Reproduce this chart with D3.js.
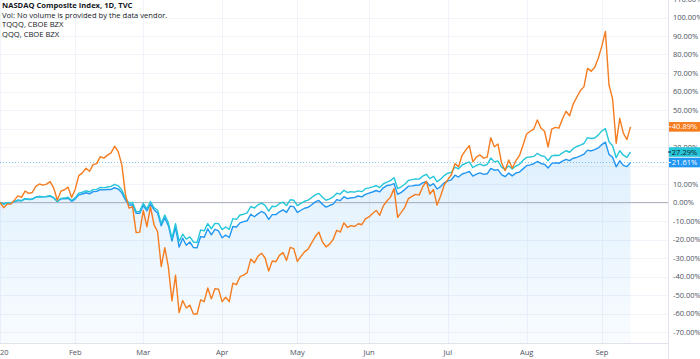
<!DOCTYPE html>
<html><head><meta charset="utf-8">
<script src="https://cdn.jsdelivr.net/npm/d3@7"></script>
<style>html,body{margin:0;padding:0;background:#fff;overflow:hidden}svg{display:block}</style>
</head><body>
<svg id="c" width="700" height="359"></svg>
<script>
// NASDAQ Composite daily closes, 2 Jan 2020 .. 14 Sep 2020 (trading days)
const composite = [
9092.19,9020.77,9071.47,9068.58,9129.24,9203.43,9178.86,9273.93,9251.33,9258.70,9357.13,9388.94,9370.81,9383.77,9402.48,9314.91,9139.31,9269.68,9275.16,9298.93,9150.94,
9273.40,9467.97,9508.68,9572.15,9520.51,9628.39,9638.94,9725.96,9711.97,9731.18,9732.74,9817.18,9750.96,9576.59,9221.28,8965.61,8980.78,8566.48,8567.37,
8952.17,8684.09,9018.09,8738.60,8575.62,7950.68,8344.25,7952.05,7201.80,7874.88,6904.59,7334.78,6989.84,7150.58,6879.52,6860.67,7417.86,7384.30,7797.54,7502.38,7774.15,7700.10,
7360.58,7487.31,7373.08,7913.24,7887.26,8090.90,8153.58,8192.42,8515.74,8393.18,8532.36,8650.14,8560.73,8263.23,8495.38,8494.75,8634.52,8730.16,8607.73,8914.71,8889.55,
8604.95,8710.71,8809.12,8854.39,8979.66,9121.32,9192.34,9002.55,8863.17,8943.72,9014.56,9234.83,9185.10,9375.78,9284.88,9324.59,9340.22,9412.36,9368.99,9489.87,
9552.05,9608.38,9682.91,9615.81,9814.08,9924.75,9953.75,10020.35,9492.73,9588.81,9726.02,9895.87,9910.53,9943.05,9946.12,10056.48,10131.37,9909.17,10017.00,9757.22,9874.15,10058.77,
10154.63,10207.63,10433.65,10343.89,10492.50,10547.75,10617.44,10390.84,10488.58,10550.49,10473.83,10503.19,10767.09,10680.36,10706.13,10461.42,10363.18,10536.27,10402.09,10542.94,10587.81,10745.27,
10902.80,10941.17,10998.40,11108.07,11010.98,10968.36,10782.82,11012.24,11042.50,11019.30,11129.72,11210.84,11146.46,11264.95,11311.80,11379.72,11466.47,11665.06,11625.34,11695.63,11775.46,
11939.67,12056.44,11458.10,11313.13,10847.69,11141.56,10919.59,10853.55,11056.65];

// QQQ daily closes (CBOE BZX)
const qqq = [
216.16,214.18,215.56,215.53,217.15,218.80,218.21,220.63,219.71,220.03,222.37,223.24,222.84,223.21,224.16,221.75,217.24,220.77,221.34,222.25,218.47,
221.63,227.07,228.14,229.83,228.71,231.15,231.43,233.76,233.24,234.27,235.03,237.43,235.64,230.81,221.42,215.32,216.10,205.50,205.76,
215.24,208.69,217.28,210.06,207.08,191.66,201.64,192.41,174.33,191.49,170.70,179.10,173.40,175.97,170.00,169.30,184.00,183.00,191.50,185.50,191.80,191.50,
184.50,187.50,184.80,197.30,196.50,201.60,202.50,204.00,211.50,209.60,213.50,215.50,212.80,206.00,211.80,211.40,215.00,216.50,212.50,219.30,218.80,
212.50,215.20,217.60,219.00,222.00,225.00,226.80,222.30,218.80,220.30,222.70,227.00,226.00,230.50,227.80,228.80,228.30,229.80,228.80,232.30,
233.30,234.42,235.76,233.66,237.91,240.04,241.68,245.03,232.46,234.56,237.53,241.94,242.89,243.73,243.47,246.92,249.15,244.11,246.87,240.38,243.46,247.60,
250.39,251.40,257.59,255.54,259.98,261.90,263.54,257.02,259.62,260.96,259.16,260.54,268.06,263.62,264.67,257.42,254.89,258.76,255.40,258.80,260.70,265.50,
268.90,269.40,270.00,273.50,270.80,270.00,264.90,270.60,271.40,271.10,274.10,276.60,274.90,279.10,281.60,283.20,285.10,291.90,290.90,291.50,294.90,
299.90,302.50,287.10,282.50,268.40,276.60,271.40,268.90,275.15];

// TQQQ (CBOE BZX) change since first bar, %
const tqqqPct = [
0,-2.8,-0.9,-0.9,1.3,3.6,2.8,6.2,4.9,5.4,8.7,10.0,9.4,9.9,11.3,7.8,1.2,6.1,6.9,8.3,2.7,
7.2,14.5,16.0,18.5,16.9,20.5,21.0,24.8,24.0,25.6,26.8,30.4,27.5,20.5,4.5,-3.0,-2.2,-16.3,-16.0,
-4.3,-13.1,-2.3,-12.1,-15.8,-34.6,-24.4,-34.8,-53.2,-39.3,-59.5,-53.0,-57.0,-55.5,-60.3,-60.3,-52.6,-53.6,-46.2,-52.1,-46.6,-46.8,
-53.6,-51.2,-53.6,-43.6,-44.4,-40.1,-39.3,-37.9,-30.6,-32.6,-29.1,-27.4,-30.0,-37.1,-31.6,-32.0,-28.6,-27.1,-31.3,-24.3,-24.9,
-31.8,-29.1,-26.7,-25.2,-21.8,-18.4,-16.0,-21.3,-24.0,-22.5,-20.0,-15.0,-16.0,-11.0,-13.5,-12.5,-13.0,-11.5,-12.0,-8.9,
-7.8,-5.9,-4.3,-6.9,-1.8,0.8,2.9,7.5,-8.0,-5.3,-2.6,2.1,3.3,4.4,4.0,8.4,11.4,4.6,7.0,-1.4,3.5,9.5,
12.4,15.0,21.0,19.3,25.5,28.3,30.7,22.0,24.7,25.7,24.0,24.5,35.0,30.1,31.6,21.5,17.2,23.0,18.5,22.6,25.3,31.0,
37.0,38.5,39.7,44.6,40.3,38.5,30.0,39.7,40.6,40.2,45.1,49.3,46.9,53.2,56.9,60.5,62.5,72.5,71.0,73.0,78.0,
84.5,92.5,63.5,56.0,32.0,45.5,37.5,34.0,40.89];

// first trading day of each month (bar index) and labels
const monthStartIdx = [0,21,40,62,83,103,125,147,168];
const monthLabels = ["2020","Feb","Mar","Apr","May","Jun","Jul","Aug","Sep"];
const yTickValues = [-70,-60,-50,-40,-30,-20,-10,0,10,20,30,40,50,60,70,80,90,100,110];
const legendLines = ["NASDAQ Composite Index, 1D, TVC","Vol: No volume is provided by the data vendor.","TQQQ, CBOE BZX","QQQ, CBOE BZX"];

const colors = {comp:"#2196f3", qqq:"#26c6da", tqqq:"#f57c1f"};
const font = "'Open Sans', Roboto, sans-serif";

const pct = arr => arr.map(v => (v / arr[0] - 1) * 100);
const compPct = pct(composite), qqqPct = pct(qqq);

const plotRight = 668, plotBottom = 343;
const svg = d3.select("#c");
const x = d3.scaleLinear().domain([0, composite.length - 1]).range([0, 630.5]);
const y = d3.scaleLinear().domain([0, 100]).range([202.5, 17.5]);

const defs = svg.append("defs");
const grad = defs.append("linearGradient").attr("id","ag").attr("gradientUnits","userSpaceOnUse")
  .attr("x1",0).attr("x2",0).attr("y1",y(d3.max(compPct))).attr("y2",plotBottom);
grad.append("stop").attr("offset",0).attr("stop-color","#2196f3").attr("stop-opacity",0.15);
grad.append("stop").attr("offset",1).attr("stop-color","#2196f3").attr("stop-opacity",0.03);
defs.append("clipPath").attr("id","pc").append("rect").attr("x",0).attr("y",0).attr("width",plotRight).attr("height",plotBottom);

// grid
const g = svg.append("g").attr("clip-path","url(#pc)");
g.selectAll(".hg").data(yTickValues).join("line")
  .attr("x1",0).attr("x2",plotRight).attr("y1",d=>Math.round(y(d))+0.5).attr("y2",d=>Math.round(y(d))+0.5)
  .attr("stroke","#f0f3fa").attr("stroke-width",1);
g.selectAll(".vg").data(monthStartIdx).join("line")
  .attr("y1",0).attr("y2",plotBottom).attr("x1",d=>Math.round(x(d))+0.5).attr("x2",d=>Math.round(x(d))+0.5)
  .attr("stroke","#f0f3fa").attr("stroke-width",1);

// area for main series
g.append("path").datum(compPct)
  .attr("d", d3.area().x((d,i)=>x(i)).y0(plotBottom).y1(d=>y(d)))
  .attr("fill","url(#ag)");

// zero line
g.append("line").attr("x1",0).attr("x2",plotRight).attr("y1",y(0)).attr("y2",y(0))
  .attr("stroke","#b2b5be").attr("stroke-width",1);

// price line for main series
g.append("line").attr("x1",0).attr("x2",plotRight)
  .attr("y1",y(compPct[compPct.length-1])).attr("y2",y(compPct[compPct.length-1]))
  .attr("stroke","#2196f3").attr("stroke-opacity",0.55).attr("stroke-dasharray","1,2").attr("stroke-width",1);

const line = d3.line().x((d,i)=>x(i)).y(d=>y(d));
g.append("path").datum(compPct).attr("d",line).attr("fill","none").attr("stroke",colors.comp).attr("stroke-width",1.4).attr("stroke-linejoin","round");
g.append("path").datum(qqqPct).attr("d",line).attr("fill","none").attr("stroke",colors.qqq).attr("stroke-width",1.4).attr("stroke-linejoin","round");
g.append("path").datum(tqqqPct).attr("d",line).attr("fill","none").attr("stroke",colors.tqqq).attr("stroke-width",1.4).attr("stroke-linejoin","round");

// axes borders
svg.append("line").attr("x1",plotRight+0.5).attr("x2",plotRight+0.5).attr("y1",0).attr("y2",359).attr("stroke","#e0e3eb");
svg.append("line").attr("x1",0).attr("x2",plotRight).attr("y1",plotBottom+0.5).attr("y2",plotBottom+0.5).attr("stroke","#e0e3eb");

// last value tags
const tags = [
  {v: tqqqPct[tqqqPct.length-1], c: colors.tqqq, t:"#fff"},
  {v: qqqPct[qqqPct.length-1], c: colors.qqq, t:"#131722"},
  {v: compPct[compPct.length-1], c: colors.comp, t:"#fff"}
];

// y labels (those fully hidden behind a tag are not drawn)
const visibleTicks = yTickValues.filter(t => tags.every(tg => Math.abs(y(t) - y(tg.v)) > 4.5));
svg.selectAll(".yl").data(visibleTicks).join("text")
  .attr("x",673).attr("y",d=>y(d)).attr("dy","0.35em")
  .attr("font-family",font).attr("font-size",7.5).attr("fill","#4c525e")
  .text(d=>d.toFixed(2)+"%");

// x labels
svg.selectAll(".xl").data(monthStartIdx).join("text")
  .attr("x",d=>x(d)).attr("y",355).attr("text-anchor","middle")
  .attr("font-family",font).attr("font-size",7.5).attr("fill","#4c525e")
  .text((d,i)=>monthLabels[i]);

const tg = svg.selectAll(".tag").data(tags).join("g").attr("transform",d=>`translate(${plotRight},${y(d.v)})`);
tg.append("rect").attr("x",1).attr("y",-4.8).attr("width",31).attr("height",9.6).attr("fill",d=>d.c);
tg.append("line").attr("x1",0).attr("x2",3).attr("y1",0).attr("y2",0).attr("stroke",d=>d.t);
tg.append("text").attr("x",16.5).attr("y",0).attr("dy","0.35em").attr("text-anchor","middle")
  .attr("font-family",font).attr("font-size",7.5).attr("fill",d=>d.t)
  .text(d=>d.v.toFixed(2)+"%");

// legend
svg.selectAll(".lg").data(legendLines).join("text")
  .attr("x",2).attr("y",(d,i)=>8+i*9.7)
  .attr("font-family",font).attr("font-size",7.6).attr("fill","#131722")
  .attr("font-weight",(d,i)=>i===0?"bold":"normal")
  .text(d=>d);
</script>
</body></html>
